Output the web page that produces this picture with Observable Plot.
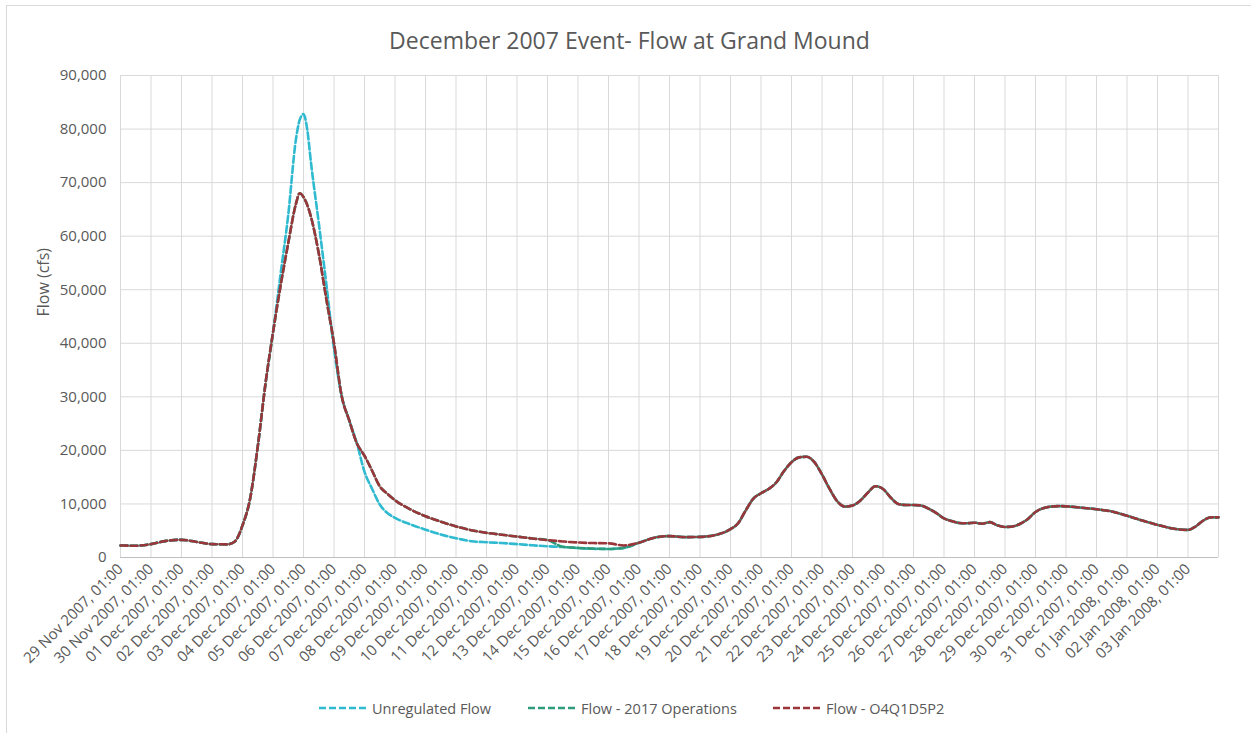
<!DOCTYPE html>
<html>
<head>
<meta charset="utf-8">
<script src="https://cdn.jsdelivr.net/npm/d3@7"></script>
<script src="https://cdn.jsdelivr.net/npm/@observablehq/plot@0.6"></script>
<style>
  body { margin: 0; background: #fff; font-family: "Open Sans", sans-serif; }
  #wrap { position: relative; width: 1251px; height: 733px; overflow: hidden; }
  #frame { position: absolute; left: 6px; top: 5px; width: 1300px; height: 800px; border: 1px solid #d9d9d9; pointer-events: none; z-index: 5; }
  #title { position: absolute; top: 29px; left: 4px; width: 1251px; text-align: center; font-size: 23px; line-height: 23px; color: #595959; }
  #chart { position: absolute; left: 0; top: 60px; }
  .lg { position: absolute; top: 698px; height: 20px; font-size: 14.5px; color: #595959; display: flex; align-items: center; white-space: nowrap; }
  .lg svg { margin-right: 4px; }
</style>
</head>
<body>
<div id="wrap">
  <div id="frame"></div>
  <div id="title">December 2007 Event- Flow at Grand Mound</div>
  <div id="chart"></div>
  <div id="legend"></div>
</div>
<script>
// ---- data ----
const times = [
  "2007-11-29 01:00","2007-11-29 13:00","2007-11-30 01:00","2007-11-30 13:00",
  "2007-12-01 01:00","2007-12-01 13:00","2007-12-02 01:00","2007-12-02 13:00","2007-12-02 19:00",
  "2007-12-03 01:00","2007-12-03 07:00","2007-12-03 13:00","2007-12-03 19:00",
  "2007-12-04 01:00","2007-12-04 07:00","2007-12-04 13:00","2007-12-04 19:00","2007-12-04 22:00",
  "2007-12-05 01:00","2007-12-05 04:00","2007-12-05 07:00","2007-12-05 13:00","2007-12-05 19:00",
  "2007-12-06 01:00","2007-12-06 07:00","2007-12-06 13:00","2007-12-06 19:00",
  "2007-12-07 01:00","2007-12-07 07:00","2007-12-07 13:00","2007-12-07 19:00",
  "2007-12-08 01:00","2007-12-08 13:00","2007-12-09 01:00","2007-12-09 13:00",
  "2007-12-10 01:00","2007-12-10 13:00","2007-12-11 01:00","2007-12-11 13:00",
  "2007-12-12 01:00","2007-12-12 13:00","2007-12-13 01:00","2007-12-13 13:00",
  "2007-12-14 01:00","2007-12-14 13:00","2007-12-15 01:00","2007-12-15 13:00",
  "2007-12-16 01:00","2007-12-16 13:00","2007-12-17 01:00","2007-12-17 13:00",
  "2007-12-18 01:00","2007-12-18 13:00","2007-12-19 01:00","2007-12-19 07:00","2007-12-19 13:00","2007-12-19 19:00",
  "2007-12-20 01:00","2007-12-20 07:00","2007-12-20 13:00","2007-12-20 19:00",
  "2007-12-21 01:00","2007-12-21 07:00","2007-12-21 13:00","2007-12-21 19:00",
  "2007-12-22 01:00","2007-12-22 07:00","2007-12-22 13:00","2007-12-22 19:00",
  "2007-12-23 01:00","2007-12-23 07:00","2007-12-23 13:00","2007-12-23 19:00",
  "2007-12-24 01:00","2007-12-24 07:00","2007-12-24 13:00","2007-12-24 19:00",
  "2007-12-25 01:00","2007-12-25 07:00","2007-12-25 13:00","2007-12-25 19:00",
  "2007-12-26 01:00","2007-12-26 07:00","2007-12-26 13:00","2007-12-26 19:00",
  "2007-12-27 01:00","2007-12-27 07:00","2007-12-27 13:00","2007-12-27 19:00",
  "2007-12-28 01:00","2007-12-28 07:00","2007-12-28 13:00","2007-12-28 19:00",
  "2007-12-29 01:00","2007-12-29 07:00","2007-12-29 13:00","2007-12-29 19:00",
  "2007-12-30 01:00","2007-12-30 13:00","2007-12-31 01:00","2007-12-31 13:00",
  "2008-01-01 01:00","2008-01-01 13:00","2008-01-02 01:00","2008-01-02 13:00",
  "2008-01-03 01:00","2008-01-03 07:00","2008-01-03 13:00","2008-01-03 19:00","2008-01-04 01:00"
];

const unregulated = [
  2250,2200,2500,3100,
  3300,2900,2500,2450,3000,
  6000,11000,20700,32300,
  42000,53000,64000,78000,81700,
  82800,79800,73500,62500,51000,
  39000,30200,25600,21300,
  16000,12800,9900,8300,
  7400,6200,5200,4300,
  3600,3050,2850,2700,
  2500,2280,2100,1950,
  1750,1620,1600,1800,
  2750,3700,4000,3800,
  3850,4200,5300,6400,8800,11000,
  12000,12800,14000,16100,
  17800,18700,18800,17800,
  15500,12800,10500,9500,
  9700,10600,12100,13300,
  12800,11200,10000,9800,
  9800,9700,9100,8300,
  7300,6800,6450,6400,
  6500,6300,6600,6000,
  5700,5800,6300,7200,
  8500,9200,9500,9600,
  9550,9300,9000,8600,
  7800,6900,6100,5400,
  5150,5800,6900,7500,7500
];

const ops2017 = [
  2250,2200,2500,3100,
  3300,2900,2500,2450,3000,
  6000,11000,20700,32300,
  42000,50800,58700,66000,68000,
  67300,65800,63500,56800,48200,
  40000,30200,25600,21300,
  19000,16200,13300,11900,
  10700,9000,7700,6700,
  5800,5100,4600,4250,
  3900,3550,3250,2000,
  1800,1650,1600,1800,
  2750,3700,4000,3800,
  3850,4200,5300,6400,8800,11000,
  12000,12800,14000,16100,
  17800,18700,18800,17800,
  15500,12800,10500,9500,
  9700,10600,12100,13300,
  12800,11200,10000,9800,
  9800,9700,9100,8300,
  7300,6800,6450,6400,
  6500,6300,6600,6000,
  5700,5800,6300,7200,
  8500,9200,9500,9600,
  9550,9300,9000,8600,
  7800,6900,6100,5400,
  5150,5800,6900,7500,7500
];

const o4q1d5p2 = [
  2250,2200,2500,3100,
  3300,2900,2500,2450,3000,
  6000,11000,20700,32300,
  42000,50800,58700,66000,68000,
  67300,65800,63500,56800,48200,
  40000,30200,25600,21300,
  19000,16200,13300,11900,
  10700,9000,7700,6700,
  5800,5100,4600,4250,
  3900,3550,3250,3000,
  2800,2700,2650,2250,
  2750,3700,4000,3800,
  3850,4200,5300,6400,8800,11000,
  12000,12800,14000,16100,
  17800,18700,18800,17800,
  15500,12800,10500,9500,
  9700,10600,12100,13300,
  12800,11200,10000,9800,
  9800,9700,9100,8300,
  7300,6800,6450,6400,
  6500,6300,6600,6000,
  5700,5800,6300,7200,
  8500,9200,9500,9600,
  9550,9300,9000,8600,
  7800,6900,6100,5400,
  5150,5800,6900,7500,7500
];

const seriesNames = ["Unregulated Flow", "Flow - 2017 Operations", "Flow - O4Q1D5P2"];
const seriesColors = ["#2fbad0", "#2e9b7a", "#9a3539"];
const yTicks = [0,10000,20000,30000,40000,50000,60000,70000,80000,90000];
const axisStart = "2007-11-29 01:00";
const axisEnd = "2008-01-04 01:00";

// ---- build ----
const parse = d3.utcParse("%Y-%m-%d %H:%M");
const seriesValues = [unregulated, ops2017, o4q1d5p2];
const rows = seriesValues.map((vals, s) => times.map((t, i) => ({date: parse(t), value: vals[i], series: seriesNames[s]})));

const x0 = parse(axisStart), x1 = parse(axisEnd);
const gridDates = d3.utcDay.range(d3.utcDay.floor(x0), d3.utcDay.offset(d3.utcDay.floor(x1), 1)).map(d => d3.utcHour.offset(d, 1));
const labelDates = gridDates.slice(0, -1);
const fmt = d3.utcFormat("%d %b %Y, %H:%M");

const dash = "7,3";
const chart = Plot.plot({
  width: 1251,
  height: 620,
  marginTop: 15,
  marginBottom: 123,
  marginLeft: 120,
  marginRight: 33,
  style: {fontFamily: "'Open Sans', sans-serif", fontSize: "15px", color: "#595959", background: "transparent"},
  x: {type: "utc", domain: [x0, x1]},
  y: {domain: [0, 90000]},
  marks: [
    Plot.gridY(yTicks, {stroke: "#d9d9d9", strokeOpacity: 1}),
    Plot.gridX(gridDates, {stroke: "#d9d9d9", strokeOpacity: 1}),
    Plot.ruleY([0], {stroke: "#bfbfbf"}),
    Plot.axisY({ticks: yTicks, tickFormat: d3.format(","), tickSize: 0, tickPadding: 14, label: null, fontSize: 15}),
    Plot.text(["Flow (cfs)"], {frameAnchor: "left", dx: -77, rotate: -90, fontSize: 16, fill: "#595959"}),
    Plot.axisX({ticks: labelDates, tickFormat: fmt, tickRotate: -45, tickSize: 0, tickPadding: 9, label: null, fontSize: 15}),
    ...rows.map((r, s) => Plot.line(r, {x: "date", y: "value", stroke: seriesColors[s], strokeWidth: 2.6, strokeDasharray: dash, curve: "monotone-x"}))
  ]
});
document.getElementById("chart").appendChild(chart);

// ---- legend ----
const legendLeft = [318, 527, 772];
const legend = document.getElementById("legend");
seriesNames.forEach((name, i) => {
  const item = document.createElement("div");
  item.className = "lg";
  item.style.left = legendLeft[i] + "px";
  item.innerHTML = `<svg width="50" height="10"><line x1="1" y1="5" x2="49" y2="5" stroke="${seriesColors[i]}" stroke-width="2.6" stroke-dasharray="${dash}"/></svg><span>${name}</span>`;
  legend.appendChild(item);
});
</script>
</body>
</html>
